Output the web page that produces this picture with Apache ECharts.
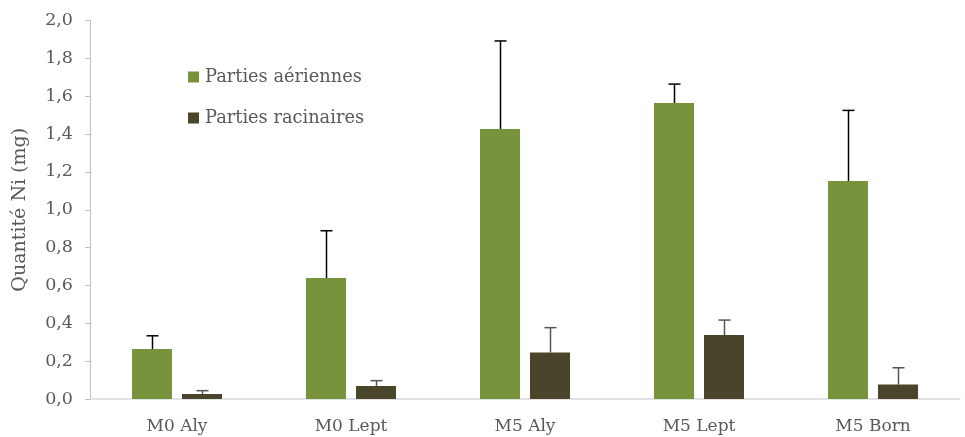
<!DOCTYPE html>
<html>
<head>
<meta charset="utf-8">
<script src="https://cdn.jsdelivr.net/npm/echarts@6/dist/echarts.min.js"></script>
<style>html,body{margin:0;padding:0;background:#fff;}#c{width:965px;height:437px;}</style>
</head>
<body>
<div id="c"></div>
<script>
var categories = ['M0 Aly', 'M0 Lept', 'M5 Aly', 'M5 Lept', 'M5 Born'];
var seriesNames = ['Parties aériennes', 'Parties racinaires'];
var aeriennes = [0.264, 0.639, 1.427, 1.564, 1.152];
var aeriennesErrTop = [0.334, 0.889, 1.892, 1.664, 1.525];
var racinaires = [0.026, 0.069, 0.246, 0.338, 0.076];
var racinairesErrTop = [0.044, 0.097, 0.377, 0.417, 0.165];

var FONT = '"DejaVu Serif", "Liberation Serif", serif';
var BAR_W = 40, BAR_GAP = 10;

function errSeries(vals, tops, offset, color) {
  return {
    type: 'custom',
    z: 5,
    silent: true,
    data: vals.map(function (v, i) { return [i, v, tops[i]]; }),
    renderItem: function (params, api) {
      var p0 = api.coord([api.value(0), api.value(1)]);
      var p1 = api.coord([api.value(0), api.value(2)]);
      var x = Math.round(p0[0] + offset) + 0.5;
      return {
        type: 'group',
        children: [
          { type: 'line', shape: { x1: x, y1: p0[1], x2: x, y2: p1[1] }, style: { stroke: color, lineWidth: 1.5 } },
          { type: 'line', shape: { x1: x - 6, y1: p1[1], x2: x + 6, y2: p1[1] }, style: { stroke: color, lineWidth: 1.5 } }
        ]
      };
    }
  };
}

var chart = echarts.init(document.getElementById('c'));
var off = (BAR_W + BAR_GAP) / 2;
chart.setOption({
  animation: false,
  textStyle: { fontFamily: FONT },
  grid: { left: 90, right: 5, top: 20.5, bottom: 38 },
  legend: {
    data: seriesNames,
    orient: 'vertical',
    left: 183,
    top: 63,
    itemWidth: 11,
    itemHeight: 11,
    itemGap: 23,
    icon: 'rect',
    textStyle: { fontFamily: FONT, fontSize: 17.8, color: '#595959', padding: [0, 0, 0, 1] }
  },
  xAxis: {
    type: 'category',
    data: categories,
    axisLine: { lineStyle: { color: '#d9d9d9', width: 1.5 } },
    axisTick: { show: false },
    axisLabel: { fontFamily: FONT, fontSize: 17, color: '#595959', margin: 19 }
  },
  yAxis: {
    type: 'value',
    min: 0, max: 2, interval: 0.2,
    name: 'Quantité Ni (mg)',
    nameLocation: 'middle',
    nameGap: 60,
    nameTextStyle: { fontFamily: FONT, fontSize: 19, color: '#595959' },
    axisLine: { show: true, lineStyle: { color: '#bfbfbf' } },
    axisTick: { show: true, length: 5, lineStyle: { color: '#bfbfbf' } },
    splitLine: { show: false },
    axisLabel: {
      fontFamily: FONT, fontSize: 17.5, color: '#595959', margin: 17,
      formatter: function (v) { return v.toFixed(1).replace('.', ','); }
    }
  },
  series: [
    { name: seriesNames[0], type: 'bar', data: aeriennes, barWidth: BAR_W, barGap: (BAR_GAP / BAR_W * 100) + '%', itemStyle: { color: '#77933c' } },
    { name: seriesNames[1], type: 'bar', data: racinaires, barWidth: BAR_W, barGap: (BAR_GAP / BAR_W * 100) + '%', itemStyle: { color: '#4a452a' } },
    errSeries(aeriennes, aeriennesErrTop, -off, '#000000'),
    errSeries(racinaires, racinairesErrTop, off, '#555555')
  ]
});
</script>
</body>
</html>
